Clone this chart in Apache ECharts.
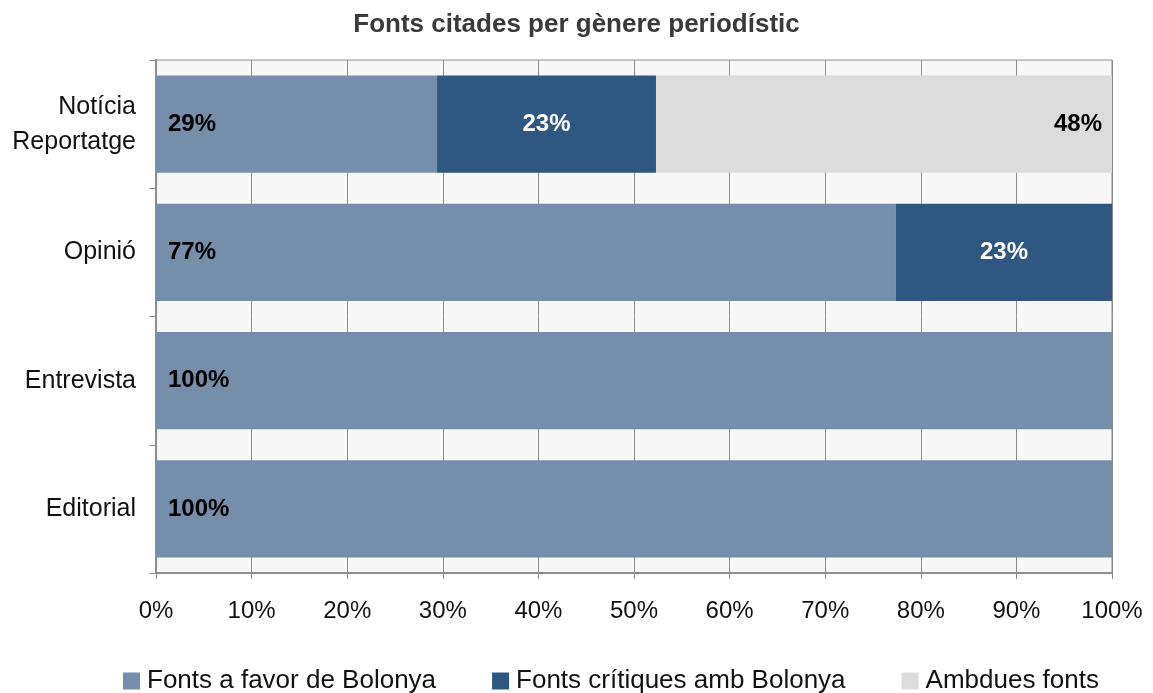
<!DOCTYPE html>
<html>
<head>
<meta charset="utf-8">
<script src="https://cdn.jsdelivr.net/npm/echarts@6/dist/echarts.min.js"></script>
<style>
  html, body { margin: 0; padding: 0; background: #fff; }
  #chart { width: 1153px; height: 693px; }
</style>
</head>
<body>
<div id="chart"></div>
<script>
// categories top to bottom
const categories = ['Notícia\nReportatge', 'Opinió', 'Entrevista', 'Editorial'];
const seriesNames = ['Fonts a favor de Bolonya', 'Fonts crítiques amb Bolonya', 'Ambdues fonts'];
const aFavor = [29.4, 77.4, 100, 100];
const critiques = [22.9, 22.6, 0, 0];
const ambdues = [47.7, 0, 0, 0];
const xTicks = [0, 10, 20, 30, 40, 50, 60, 70, 80, 90, 100];

const font = 'Liberation Sans, Arial, sans-serif';
const colors = ['#758fab', '#2e5782', '#dcdcdc'];

const pct = p => (p.value ? Math.round(p.value) + '%' : '');

const chart = echarts.init(document.getElementById('chart'));
chart.setOption({
  animation: false,
  title: {
    text: 'Fonts citades per gènere periodístic',
    left: 'center',
    top: 7,
    textStyle: { fontFamily: font, fontSize: 26, fontWeight: 'bold', color: '#3a3a3a' }
  },
  legend: {
    top: 663,
    left: 118,
    itemWidth: 17,
    itemHeight: 17,
    itemGap: 56,
    icon: 'rect',
    textStyle: { fontFamily: font, fontSize: 26, color: '#111', padding: [0, 0, 0, 2] },
    data: seriesNames
  },
  grid: {
    left: 156, right: 41, top: 60, bottom: 120,
    show: true,
    backgroundColor: '#f7f7f7',
    borderColor: '#8c8c8c',
    borderWidth: 1
  },
  xAxis: {
    type: 'value',
    min: xTicks[0],
    max: xTicks[xTicks.length - 1],
    interval: 10,
    axisLine: { show: true, lineStyle: { color: '#8c8c8c', width: 2 } },
    axisTick: { show: true, length: 6, lineStyle: { color: '#8c8c8c' } },
    splitLine: { show: true, lineStyle: { color: '#8c8c8c', width: 1 } },
    axisLabel: {
      formatter: '{value}%',
      fontFamily: font, fontSize: 24, color: '#111', margin: 26
    }
  },
  yAxis: {
    type: 'category',
    inverse: true,
    data: categories,
    axisLine: { show: true, lineStyle: { color: '#8c8c8c', width: 2 } },
    axisTick: { show: true, length: 7, lineStyle: { color: '#8c8c8c' } },
    axisLabel: {
      fontFamily: font, fontSize: 25, color: '#111', margin: 20, lineHeight: 35, align: 'right'
    }
  },
  series: [
    {
      name: seriesNames[0], type: 'bar', stack: 'total', data: aFavor,
      barCategoryGap: '24%',
      itemStyle: { color: colors[0] },
      label: {
        show: true, position: 'insideLeft', distance: 12, formatter: pct,
        fontFamily: font, fontSize: 24, fontWeight: 'bold', color: '#000'
      }
    },
    {
      name: seriesNames[1], type: 'bar', stack: 'total', data: critiques,
      itemStyle: { color: colors[1] },
      label: {
        show: true, position: 'inside', formatter: pct,
        fontFamily: font, fontSize: 24, fontWeight: 'bold', color: '#fff'
      }
    },
    {
      name: seriesNames[2], type: 'bar', stack: 'total', data: ambdues,
      itemStyle: { color: colors[2] },
      label: {
        show: true, position: 'insideRight', distance: 10, formatter: pct,
        fontFamily: font, fontSize: 24, fontWeight: 'bold', color: '#000'
      }
    }
  ]
});
</script>
</body>
</html>
